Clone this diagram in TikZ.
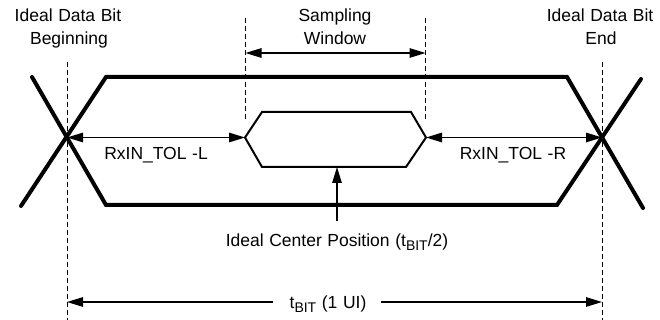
\documentclass[tikz,border=0pt]{standalone}
\usepackage{fontspec}
\setmainfont[WordSpace=1.15]{Liberation Sans}
\usetikzlibrary{arrows.meta}
\newcommand\lowtext[1]{\raisebox{-0.28em}{\fontsize{14}{14}\selectfont #1}}
\begin{document}
\begin{tikzpicture}[x=1pt,y=-1pt,
  font=\fontsize{17.5}{23}\selectfont,
  thickline/.style={line width=4pt, line join=miter, line cap=round},
  eyeline/.style={line width=2pt, line join=miter},
  guide/.style={line width=1pt, dash pattern=on 5pt off 3pt},
  tip/.tip={Triangle[length=16pt,width=9.5pt]},
  dimline/.style={line width=1.3pt, tip-tip},
  oneway/.style={line width=1.3pt, -tip},
  lbl/.style={anchor=base, inner sep=0pt}]
\useasboundingbox (0,0) rectangle (660,320);
% reference coordinates
\coordinate (L) at (67,137.5);
\coordinate (R) at (602,137.5);
\coordinate (HL) at (245,137.5);
\coordinate (HR) at (426,137.5);
\coordinate (Ltop) at (67,62);   \coordinate (Lbot) at (67,320);
\coordinate (Rtop) at (602,62);  \coordinate (Rbot) at (602,320);
\coordinate (SLtop) at (245.5,18); \coordinate (SLbot) at (245.5,120);
\coordinate (SRtop) at (425.5,18); \coordinate (SRbot) at (425.5,120);
\coordinate (SL) at (245.5,53);  \coordinate (SR) at (425.5,53);
\coordinate (TL) at (67,302);    \coordinate (TR) at (602,302);
\coordinate (TLs) at (273,302);  \coordinate (TRs) at (381,302);
\coordinate (CB) at (337,167);   \coordinate (CS) at (337,221);
% dashed guides
\draw[guide] (Ltop) -- (Lbot);
\draw[guide] (Rtop) -- (Rbot);
\draw[guide] (SLtop) -- (SLbot);
\draw[guide] (SRtop) -- (SRbot);
% outer eye
\draw[thickline] (21,206) -- (106,77) -- (567,77) -- (643,208);
\draw[thickline] (32,77) -- (106,205) -- (557,205) -- (641,79);
% inner eye
\draw[eyeline] (HL) -- (262,112) -- (411,112) -- (HR) -- (406,167) -- (262,167) -- cycle;
% dimension arrows
\draw[dimline] (L) -- (HL);
\draw[dimline] (HR) -- (R);
\draw[dimline] (SL) -- (SR);
\draw[oneway] (CS) -- (CB);
\draw[oneway] (TLs) -- (TL);
\draw[oneway] (TRs) -- (TR);
% labels
\node[lbl] (b1) at (68,22) {Ideal Data Bit};
\node[lbl] (b2) at (69,45) {Beginning};
\node[lbl] (s1) at (335,22) {Sampling};
\node[lbl] (s2) at (335,45) {Window};
\node[lbl] (e1) at (600,22) {Ideal Data Bit};
\node[lbl] (e2) at (601,45) {End};
\node[lbl] (tl) at (156,160) {RxIN\_TOL -L};
\node[lbl] (tr) at (513,160) {RxIN\_TOL -R};
\node[lbl] (cp) at (337,246) {Ideal Center Position (t\lowtext{BIT}/2)};
\node[lbl] (tb) at (328,308) {t\lowtext{BIT} (1 UI)};
\end{tikzpicture}
\end{document}
